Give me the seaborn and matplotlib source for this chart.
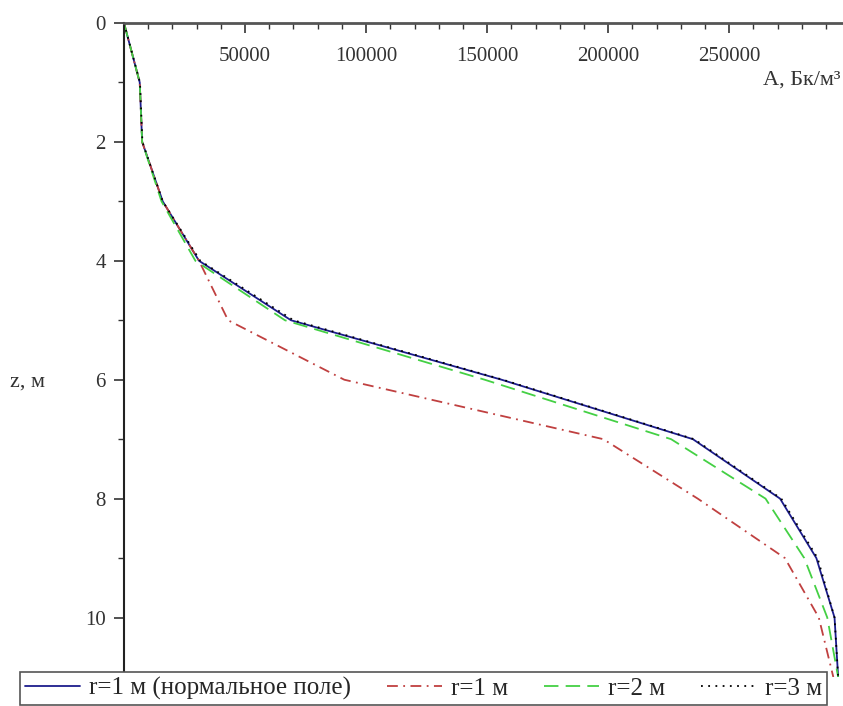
import numpy as np
import pandas as pd
import matplotlib
matplotlib.use("Agg")
import matplotlib.pyplot as plt
import seaborn as sns
from matplotlib.ticker import MultipleLocator

# Depth z, m
z = [0, 1, 2, 3, 4, 5, 6, 7, 8, 9, 10, 11]

# Activity A, Bq/m^3 for each case
a_normal = [0, 6500, 7500, 16000, 31000, 69000, 156000, 235000, 271000, 286000, 293500, 295000]
a_r1 = [0, 6500, 7500, 16000, 31000, 43000, 91000, 198000, 237000, 273000, 287000, 293000]
a_r2 = [0, 6500, 7500, 15500, 29500, 66500, 149000, 226000, 265000, 281000, 290500, 295000]
a_r3 = [0, 6600, 7600, 16000, 31500, 70000, 156500, 235500, 271500, 286500, 293500, 295000]

labels = ["r=1 м (нормальное поле)", "r=1 м", "r=2 м", "r=3 м"]
colors = ["#1c1c8c", "#c04040", "#44d044", "#000000"]
dashes = ["", (6, 3, 1, 3), (8, 4), (1, 3)]

frames = []
for lab, vals in zip(labels, [a_normal, a_r1, a_r2, a_r3]):
    frames.append(pd.DataFrame({"A": vals, "z": z, "series": lab}))
df = pd.concat(frames, ignore_index=True)

sns.set_style("white")
plt.rcParams['font.family'] = ['Liberation Serif', 'DejaVu Serif']

fig = plt.figure(figsize=(8.43, 7.06), dpi=100)
ax = fig.add_axes([124 / 843, 1 - 677 / 706, 1 - 124 / 843, (677 - 23) / 706])

sns.lineplot(data=df, x="A", y="z", hue="series", style="series",
             palette=dict(zip(labels, colors)), dashes=dict(zip(labels, dashes)),
             sort=False, estimator=None, linewidth=1.3, ax=ax)
ax.get_legend().remove()

ax.set_xlim(0, 297000)
ax.set_ylim(11, 0)

# Maple-like axes: horizontal axis at z=0 on top
ax.spines['bottom'].set_position(('data', 0))
ax.spines['top'].set_visible(False)
ax.spines['right'].set_visible(False)
ax.spines['bottom'].set_color('#555555')
ax.spines['bottom'].set_linewidth(2)
ax.spines['left'].set_color('#222222')
ax.spines['left'].set_linewidth(1.5)

ax.set_xticks([50000, 100000, 150000, 200000, 250000])
ax.xaxis.set_minor_locator(MultipleLocator(10000))
ax.set_yticks([0, 2, 4, 6, 8, 10])
ax.yaxis.set_minor_locator(MultipleLocator(1))
ax.tick_params(axis='both', which='both', bottom=True, left=True)
ax.tick_params(axis='both', which='major', direction='out', length=7, width=1.2,
               labelsize=15, color='#333333', labelcolor='#333333')
ax.tick_params(axis='both', which='minor', direction='out', length=4, width=1,
               color='#333333')
ax.tick_params(axis='x', which='major', pad=10)
ax.tick_params(axis='y', which='major', pad=6)
ax.set_xlabel("")
ax.set_ylabel("")

fig.text(840 / 843, 1 - 80 / 706, "A, Бк/м³", ha="right", va="center",
         fontsize=16, color='#333333')
fig.text(10 / 843, 1 - 382 / 706, "z, м", ha="left", va="center",
         fontsize=16, color='#333333')

handles, labs = ax.get_legend_handles_labels()
leg = fig.legend(handles, labs, loc="upper left", bbox_to_anchor=(20 / 843, 1 - 672 / 706),
                 ncol=4, frameon=True, fancybox=False, fontsize=18,
                 handlelength=2.2, handletextpad=0.35, columnspacing=1.45,
                 borderpad=0.2, borderaxespad=0)
leg.get_frame().set_edgecolor('#555555')
leg.get_frame().set_linewidth(1.2)
leg.get_frame().set_alpha(1)

fig.savefig("out.png", dpi=100)
